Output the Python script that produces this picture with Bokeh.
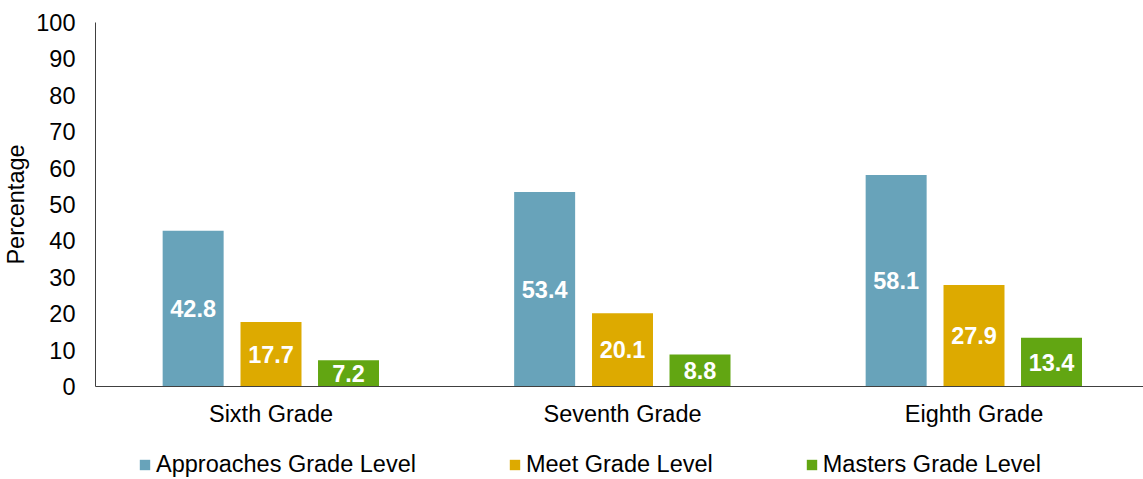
from bokeh.plotting import figure
from bokeh.models import ColumnDataSource, Range1d, FixedTicker, Legend, LegendItem
from bokeh.layouts import column
from bokeh.transform import dodge
from bokeh.core.properties import value
from bokeh.embed import file_html
from bokeh.resources import INLINE

categories = ["Sixth Grade", "Seventh Grade", "Eighth Grade"]
series_names = ["Approaches Grade Level", "Meet Grade Level", "Masters Grade Level"]
approaches = [42.8, 53.4, 58.1]
meet = [17.7, 20.1, 27.9]
masters = [7.2, 8.8, 13.4]
y_ticks = [0, 10, 20, 30, 40, 50, 60, 70, 80, 90, 100]

colors = ["#68A3BA", "#DDAA00", "#62A612"]
offsets = [-0.2215, 0.0, 0.2205]
FONT = "Liberation Sans"
FS = "23.5px"

xs = list(range(len(categories)))
src = ColumnDataSource(dict(
    x=xs,
    approaches=approaches, meet=meet, masters=masters,
    approaches_mid=[v / 2 for v in approaches],
    meet_mid=[v / 2 for v in meet],
    masters_mid=[v / 2 for v in masters],
    approaches_lbl=[f"{v:.1f}" for v in approaches],
    meet_lbl=[f"{v:.1f}" for v in meet],
    masters_lbl=[f"{v:.1f}" for v in masters],
))

p = figure(width=1143, height=440, output_backend="svg", toolbar_location=None,
           x_range=Range1d(-0.4993, 2.4822), y_range=Range1d(0, 100),
           min_border_left=95, min_border_right=0, min_border_top=22, min_border_bottom=54)
p.outline_line_color = None
p.xgrid.grid_line_color = None
p.ygrid.grid_line_color = None
p.background_fill_color = "white"
p.border_fill_color = "white"

for key, col, off in zip(["approaches", "meet", "masters"], colors, offsets):
    p.vbar(x=dodge("x", off), top=key, width=0.1735, source=src,
           fill_color=col, line_color=None)
    p.text(x=dodge("x", off), y=key + "_mid", text=key + "_lbl", source=src,
           text_color="white", text_font=value(FONT), text_font_size=FS,
           text_font_style="bold", text_align="center", text_baseline="middle")

# axes
xa = p.xaxis[0]
xa.ticker = FixedTicker(ticks=xs)
xa.major_label_overrides = {i: c for i, c in zip(xs, categories)}
xa.major_tick_line_color = None
xa.minor_tick_line_color = None
xa.major_tick_out = 0
xa.major_tick_in = 0
xa.axis_line_color = "#404040"
xa.major_label_standoff = 14
xa.major_label_text_font = FONT
xa.major_label_text_font_size = FS
xa.major_label_text_color = "black"

ya = p.yaxis[0]
ya.ticker = FixedTicker(ticks=y_ticks)
ya.major_tick_line_color = None
ya.minor_tick_line_color = None
ya.major_tick_out = 0
ya.major_tick_in = 0
ya.axis_line_color = "#404040"
ya.major_label_standoff = 20
ya.major_label_text_font = FONT
ya.major_label_text_font_size = FS
ya.major_label_text_color = "black"
ya.axis_label = "Percentage"
ya.axis_label_text_font = FONT
ya.axis_label_text_font_size = FS
ya.axis_label_text_font_style = "normal"
ya.axis_label_text_color = "black"
ya.axis_label_standoff = 4

# legend strip (separate figure so the legend is not clipped)
lg = figure(width=1143, height=39, output_backend="svg", toolbar_location=None,
            x_range=Range1d(-0.5, 2.5), y_range=Range1d(200, 300),
            x_axis_location=None, y_axis_location=None,
            min_border_left=0, min_border_right=0, min_border_top=0, min_border_bottom=0)
lg.grid.visible = False
lg.outline_line_color = None
lg.border_fill_color = "white"
lg.background_fill_color = "white"
dummies = [lg.vbar(x="x", top=key, bottom=key, width=0.17, source=src,
                   fill_color=c, line_color=None)
           for key, c in zip(["approaches", "meet", "masters"], colors)]
legend = Legend(items=[LegendItem(label=n, renderers=[r]) for n, r in zip(series_names, dummies)],
                orientation="horizontal", location=(43, 1),
                glyph_width=13, glyph_height=13, label_standoff=5, spacing=92,
                padding=0, margin=0, border_line_color=None, background_fill_alpha=0,
                label_text_font=FONT, label_text_font_size=FS, label_text_color="black",
                label_height=24)
lg.add_layout(legend, "center")

layout = column(p, lg, spacing=0)
open("out.html", "w").write(file_html(layout, INLINE))
